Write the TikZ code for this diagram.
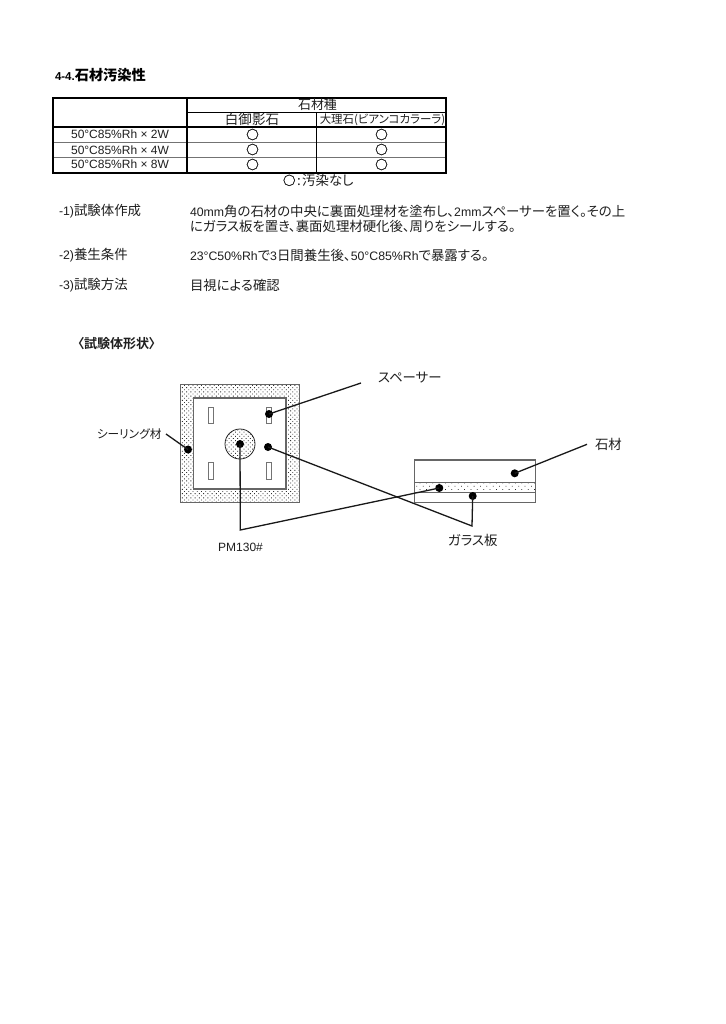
\documentclass[tikz,border=0pt]{standalone}
\usepackage{fontspec}
\usetikzlibrary{patterns.meta}
\setmainfont{Liberation Sans}
\newfontfamily\jpf[Scale=1.09,RawFeature=+palt]{Noto Sans CJK JP}
\newfontfamily\jpb[Scale=1.235,RawFeature=+palt]{Noto Sans CJK JP Bold}
\newfontfamily\mkf[FakeBold=2]{Noto Sans CJK JP}
\newcommand{\J}[1]{{\jpf #1}}
\newcommand{\JB}[1]{{\jpb #1}}
\newcommand{\Rh}[1]{50°C85\%Rh × #1W}
\tikzset{
 txt/.style={inner sep=0pt,outer sep=0pt,font=\fontsize{12.3}{14}\selectfont,text=black!88},
 lft/.style={txt,anchor=west},
 ctr/.style={txt,anchor=center},
 mark0/.style={ctr,font=\fontsize{12.5}{13}\selectfont\mkf},
 rowlab/.style={ctr,font=\fontsize{12}{13}\selectfont},
 blob/.style={circle,fill=black,draw=none,minimum size=8pt,inner sep=0pt,outer sep=0pt},
 lead/.style={draw=black!90,line width=1.3pt},
 shp/.style={draw=black!60,line width=1.2pt},
 spacerbox/.style={draw=black!55,fill=white,line width=1pt},
 thick0/.style={line width=2.2pt,draw=black},
 thin0/.style={line width=.9pt,draw=black!55},
 dense/.style={pattern={Dots[distance=3pt,radius=.62pt,angle=45]},pattern color=black!80},
 sparse/.style={pattern={Dots[distance=4.5pt,radius=.55pt,angle=45]},pattern color=black!85},
}
\begin{document}
\begin{tikzpicture}[x=1pt,y=-1pt]
\useasboundingbox[fill=white] (0,0) rectangle (725,1024);
% title
\node[lft,font=\fontsize{11.5}{14}\selectfont\bfseries,text=black] (title) at (55,75) {4-4.\JB{石材汚染性}};
% table
\draw[thin0] (53,142.7) -- (446,142.7) (53,157.7) -- (446,157.7);
\draw[line width=1.1pt] (187,112.3) -- (446,112.3);
\draw[line width=1.1pt] (316.7,112.3) -- (316.7,173);
\draw[line width=1.7pt] (53,127.3) -- (446,127.3);
\draw[line width=1.7pt] (187,97.7) -- (187,173);
\draw[thick0] (53,97.7) rectangle (446,173.2);
\node[ctr,font=\fontsize{11.9}{13}\selectfont] (h1) at (317.5,105) {\J{石材種}};
\node[ctr,font=\fontsize{12.4}{13}\selectfont] (h2) at (252,119.5) {\J{白御影石}};
\node[ctr,font=\fontsize{10.5}{12}\selectfont] (h3) at (382.5,119.5) {\J{大理石(ビアンコカラーラ)}};
\node[rowlab] (r1) at (120,134.5) {\Rh{2}};
\node[rowlab] (r2) at (120,150) {\Rh{4}};
\node[rowlab] (r3) at (120,164.5) {\Rh{8}};
\foreach \y [count=\i] in {134.5,149.5,164.5}{
 \node[mark0] (a\i) at (252.5,\y) {○};
 \node[mark0] (b\i) at (381.5,\y) {○};
}
\node[lft] (legend) at (283,180) {{\mkf\fontsize{12.5}{13}\selectfont ○}\hspace{1.5pt}\J{:}\hspace{1.5pt}\J{汚染なし}};
% text
\node[lft] (s1) at (59,211) {-1)\J{試験体作成}};
\node[lft] (t1) at (190,211) {40mm\J{角の石材の中央に裏面処理材を塗布し、}2mm\J{スペーサーを置く。その上}};
\node[lft] (t1b) at (190,226) {\J{にガラス板を置き、裏面処理材硬化後、周りをシールする。}};
\node[lft] (s2) at (59,255) {-2)\J{養生条件}};
\node[lft] (t2) at (190,255) {23°C50\%Rh\J{で}3\J{日間養生後、}50°C85\%Rh\J{で暴露する。}};
\node[lft] (s3) at (59,285) {-3)\J{試験方法}};
\node[lft] (t3) at (190,285) {\J{目視による確認}};
\node[lft,font=\fontsize{10.56}{14}\selectfont] (s4) at (77.5,344) {\JB{〈試験体形状〉}};
% plan view
\draw[shp,dense] (180.3,384.3) rectangle (299.7,502.3);
\draw[shp,fill=white] (193.7,398) rectangle (286,489);
\draw[spacerbox] (208.7,407.3) rectangle (213.5,423.3);
\draw[spacerbox] (266.8,407.3) rectangle (271.8,423.3);
\draw[spacerbox] (208.7,462.7) rectangle (213.5,479.3);
\draw[spacerbox] (266.8,462.7) rectangle (271.8,479.3);
\draw[line width=.8pt,draw=black!85,dense] (240,444) circle (15);
% section view
\draw[shp] (414.7,460) rectangle (535.3,502.3);
\draw[shp,sparse] (414.7,482.3) rectangle (535.3,492.3);
% dots
\node[blob] (dSpacer) at (269,414) {};
\node[blob] (dSeal) at (188,449.5) {};
\node[blob] (dPM) at (240,444) {};
\node[blob] (dGlass) at (268,447) {};
\node[blob] (dPM2) at (439.3,488) {};
\node[blob] (dGlass2) at (472.7,496) {};
\node[blob] (dStone) at (514.7,473.3) {};
% labels
\node[lft] (lSpacer) at (378,378) {\J{スペーサー}};
\node[lft] (lStone) at (595,444) {\J{石材}};
\node[lft,font=\fontsize{10.7}{13}\selectfont] (lSeal) at (97,434) {\J{シーリング材}};
\node[ctr,font=\fontsize{12}{13}\selectfont] (lPM) at (240.5,547) {PM130\#};
\node[lft] (lGlass) at (448,540) {\J{ガラス板}};
% free ends
\coordinate (eSpacer) at (361,383);
\coordinate (eStone) at (587,444.3);
\coordinate (eSeal) at (166,434);
\coordinate (ePM) at (240.3,530);
\coordinate (eGlass) at (472,526);
% leaders
\draw[lead] (dSpacer.center) -- (eSpacer);
\draw[lead] (dStone.center) -- (eStone);
\draw[lead] (dSeal.center) -- (eSeal);
\draw[lead] (dPM.center) -- (ePM) -- (dPM2.center);
\draw[lead] (dGlass.center) -- (eGlass) -- (dGlass2.center);
\end{tikzpicture}
\end{document}
